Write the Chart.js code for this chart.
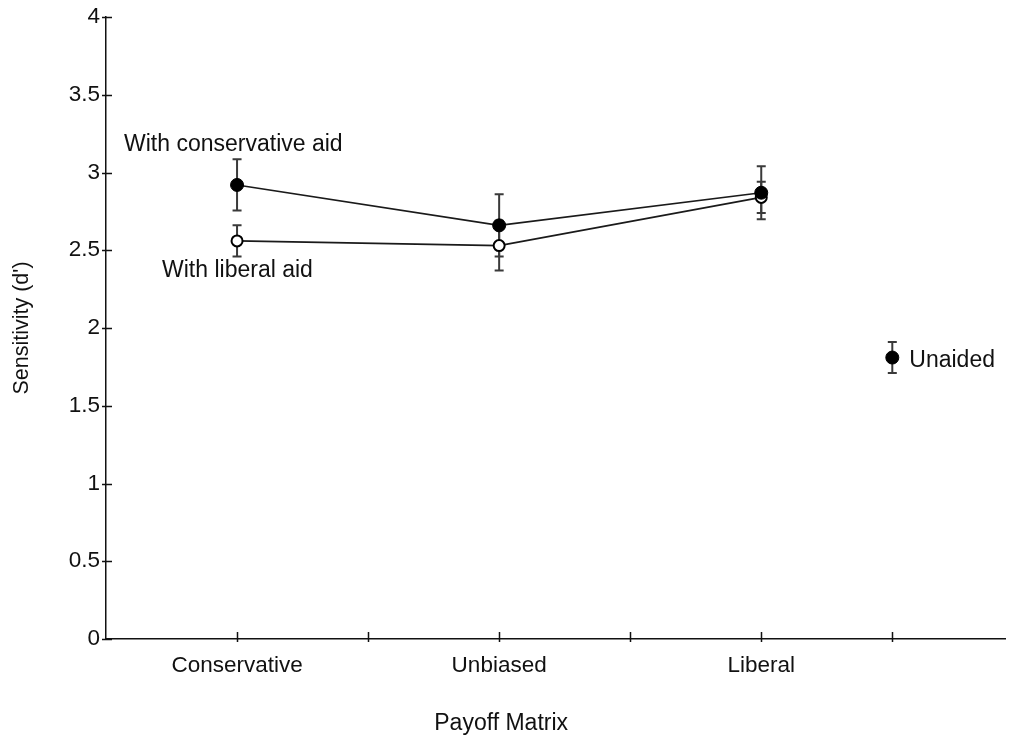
<!DOCTYPE html>
<html>
<head>
<meta charset="utf-8">
<title>Sensitivity by payoff matrix</title>
<script src="https://cdn.jsdelivr.net/npm/chart.js@4.4.1/dist/chart.umd.min.js"></script>
<style>
  html, body { margin: 0; padding: 0; background: #fff; }
  #wrap { width: 1020px; height: 738px; }
</style>
</head>
<body>
<div id="wrap"><canvas id="c" width="1020" height="738"></canvas></div>
<script>
// Payoff matrix conditions and mean sensitivity (d') with error bar half-lengths
const categories = ['Conservative', 'Unbiased', 'Liberal'];
const conservativeAid = [2.92, 2.66, 2.87];
const conservativeAidErr = [0.165, 0.20, 0.17];
const liberalAid = [2.56, 2.53, 2.84];
const liberalAidErr = [0.10, 0.16, 0.10];
const unaided = [1.81];
const unaidedErr = [0.10];
const unaidedSlot = 3.5;               // unaided baseline sits after the three conditions
const yTickValues = [0, 0.5, 1, 1.5, 2, 2.5, 3, 3.5, 4];
const xTickValues = [1, 1.5, 2, 2.5, 3, 3.5];
const xTitle = 'Payoff Matrix';

const FONT = "'Liberation Sans', Arial, Helvetica, sans-serif";
const INK = '#111';

const toPoints = (vals) => vals.map((v, i) => ({ x: i + 1, y: v }));

// Vertical error bars with caps, drawn beneath lines and markers
const errorBars = {
  id: 'errorBars',
  beforeDatasetsDraw(chart) {
    const { ctx, scales: { x, y } } = chart;
    const sets = [
      { xs: conservativeAid.map((_, i) => i + 1), v: conservativeAid, e: conservativeAidErr },
      { xs: liberalAid.map((_, i) => i + 1), v: liberalAid, e: liberalAidErr },
      { xs: [unaidedSlot], v: unaided, e: unaidedErr }
    ];
    ctx.save();
    ctx.strokeStyle = '#3a3a3a';
    ctx.lineWidth = 2;
    sets.forEach(s => {
      s.v.forEach((val, i) => {
        const px = x.getPixelForValue(s.xs[i]);
        const top = y.getPixelForValue(val + s.e[i]);
        const bot = y.getPixelForValue(val - s.e[i]);
        ctx.beginPath();
        ctx.moveTo(px, top); ctx.lineTo(px, bot);
        ctx.moveTo(px - 4.5, top); ctx.lineTo(px + 4.5, top);
        ctx.moveTo(px - 4.5, bot); ctx.lineTo(px + 4.5, bot);
        ctx.stroke();
      });
    });
    ctx.restore();
  }
};

// Small tick marks that straddle both axes
const axisTicks = {
  id: 'axisTicks',
  afterDraw(chart) {
    const { ctx, chartArea: a, scales: { x, y } } = chart;
    ctx.save();
    ctx.strokeStyle = INK;
    ctx.lineWidth = 1.5;
    ctx.beginPath();
    yTickValues.forEach(v => {
      const py = Math.round(y.getPixelForValue(v)) + 0.5;
      ctx.moveTo(a.left - 4, py); ctx.lineTo(a.left + 6, py);
    });
    xTickValues.forEach(v => {
      const px = Math.round(x.getPixelForValue(v)) + 0.5;
      ctx.moveTo(px, a.bottom - 7); ctx.lineTo(px, a.bottom + 3);
    });
    ctx.stroke();
    ctx.restore();
  }
};

// Series labels next to their markers, and the x-axis title under the middle condition
const seriesLabels = {
  id: 'seriesLabels',
  afterDraw(chart) {
    const { ctx, scales: { x, y } } = chart;
    ctx.save();
    ctx.fillStyle = INK;
    ctx.font = '23px ' + FONT;
    ctx.textBaseline = 'middle';
    ctx.textAlign = 'left';
    ctx.fillText('With conservative aid', x.getPixelForValue(1) - 113, y.getPixelForValue(conservativeAid[0]) - 40);
    ctx.fillText('With liberal aid', x.getPixelForValue(1) - 75, y.getPixelForValue(liberalAid[0]) + 30);
    ctx.fillText('Unaided', x.getPixelForValue(unaidedSlot) + 17, y.getPixelForValue(unaided[0]) + 3);
    ctx.textAlign = 'center';
    ctx.fillText(xTitle, x.getPixelForValue(2) + 2, 724);
    ctx.restore();
  }
};

new Chart(document.getElementById('c'), {
  type: 'scatter',
  data: {
    datasets: [
      {
        label: 'With conservative aid',
        data: toPoints(conservativeAid),
        showLine: true,
        borderColor: '#1a1a1a',
        borderWidth: 1.6,
        pointRadius: 6.5,
        pointBackgroundColor: '#000',
        pointBorderColor: '#000',
        pointBorderWidth: 1
      },
      {
        label: 'With liberal aid',
        data: toPoints(liberalAid),
        showLine: true,
        borderColor: '#1a1a1a',
        borderWidth: 1.6,
        pointRadius: 5.5,
        pointBackgroundColor: '#fff',
        pointBorderColor: '#000',
        pointBorderWidth: 2
      },
      {
        label: 'Unaided',
        data: unaided.map(v => ({ x: unaidedSlot, y: v })),
        showLine: false,
        pointRadius: 6.5,
        pointBackgroundColor: '#000',
        pointBorderColor: '#000',
        pointBorderWidth: 1
      }
    ]
  },
  options: {
    responsive: false,
    animation: false,
    devicePixelRatio: 1,
    layout: { padding: { top: 17, right: 15, left: 0, bottom: 0 } },
    plugins: {
      legend: { display: false },
      tooltip: { enabled: false }
    },
    scales: {
      x: {
        type: 'linear',
        min: 0.5,
        max: 3.93,
        afterBuildTicks: s => { s.ticks = xTickValues.map(v => ({ value: v })); },
        afterFit: s => { s.height = 99; s.paddingLeft = 0; s.paddingRight = 0; },
        grid: { display: false, drawTicks: false },
        border: { display: true, color: INK, width: 1.5 },
        ticks: {
          autoSkip: false,
          maxRotation: 0,
          padding: 13,
          color: INK,
          font: { family: FONT, size: 22.5 },
          callback: v => (Number.isInteger(v) ? categories[v - 1] : '')
        },
        title: { display: false }
      },
      y: {
        min: 0,
        max: 4,
        afterBuildTicks: s => { s.ticks = yTickValues.map(v => ({ value: v })); },
        afterFit: s => { s.width = 106; s.paddingTop = 0; s.paddingBottom = 0; },
        grid: { display: false, drawTicks: false },
        border: { display: true, color: INK, width: 1.5 },
        ticks: {
          padding: 6,
          color: INK,
          font: { family: FONT, size: 22.5 },
          callback: v => String(v)
        },
        title: {
          display: true,
          text: "Sensitivity (d')",
          color: INK,
          font: { family: FONT, size: 21.5 },
          padding: { top: 9, bottom: 0 }
        }
      }
    }
  },
  plugins: [errorBars, axisTicks, seriesLabels]
});
</script>
</body>
</html>
